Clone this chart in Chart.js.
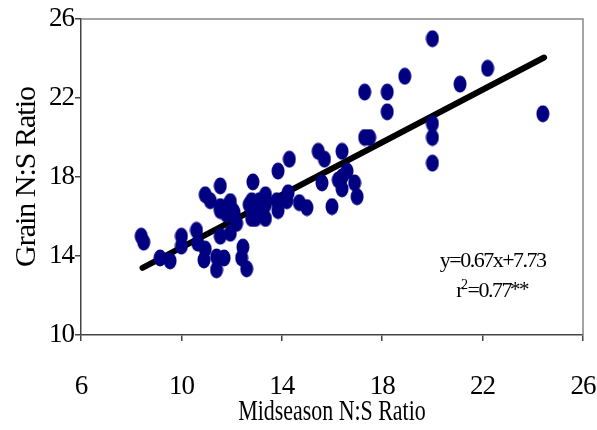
<!DOCTYPE html>
<html>
<head>
<meta charset="utf-8">
<script src="https://cdn.jsdelivr.net/npm/chart.js@4.4.0/dist/chart.umd.min.js"></script>
<style>
html, body { margin: 0; padding: 0; background: #fff; }
</style>
</head>
<body>
<canvas id="myChart" width="597" height="430"></canvas>
<script>
// values
var midX = [8.4, 8.5, 9.15, 9.55, 10.0, 10.0, 10.6, 10.65, 10.95, 10.9, 11.4, 11.4, 11.7,
  10.95, 11.15, 11.55, 11.55, 11.55, 11.9, 11.95, 11.8, 12.1, 11.55, 11.95, 12.2, 12.05,
  12.45, 12.4, 12.6, 12.8, 12.85, 12.85, 12.8, 12.7, 13.1, 13.25, 13.35, 13.35, 12.95,
  12.95, 13.35, 13.85, 13.8, 13.85, 14.2, 14.25, 14.3, 14.7, 15.0, 15.45, 15.7, 15.6,
  16.0, 16.4, 16.6, 16.4, 16.25, 16.9, 16.4, 17.0, 17.3, 17.5, 17.3, 18.2, 18.2, 18.9,
  20.0, 20.0, 20.0, 20.0, 21.1, 22.2, 24.4];
var grainY = [15.0, 14.7, 13.9, 13.75, 15.0, 14.5, 15.3, 14.65, 14.35, 13.8, 13.3, 13.95, 13.9,
  17.1, 16.8, 17.55, 16.5, 16.3, 16.6, 16.75, 16.1, 16.2, 15.0, 15.15, 15.65, 16.3,
  14.45, 13.9, 13.35, 16.8, 16.2, 17.75, 15.9, 16.6, 16.8, 16.1, 17.1, 16.6, 16.5,
  15.9, 15.9, 18.3, 16.8, 16.3, 16.8, 17.2, 18.9, 16.7, 16.45, 19.3, 18.9, 17.7,
  16.5, 19.3, 18.3, 18.0, 17.85, 17.7, 17.4, 17.0, 20.0, 20.0, 22.3, 22.3, 21.3, 23.1,
  25.0, 20.7, 20.0, 18.7, 22.7, 23.5, 21.2];

// regression line ends as drawn
var fitX = [8.45, 24.45];
var fitY = [13.4, 24.05];

var xTicks = [6, 10, 14, 18, 22, 26];
var yTicks = [10, 14, 18, 22, 26];

var eqText = "y=0.67x+7.73";
var rText = ["r", "2", "=0.77", "**"];
var eqPos = { x: 22.4, y1: 13.44, y2: 11.92 };

var serif = "'Liberation Serif', 'Times New Roman', serif";

var scatterPts = midX.map(function(x, i) { return { x: x, y: grainY[i] }; });
var fitPts = fitX.map(function(x, i) { return { x: x, y: fitY[i] }; });

// oval marker like the original
var dot = document.createElement("canvas");
dot.width = 14;
dot.height = 18;
var dctx = dot.getContext("2d");
dctx.fillStyle = "#000080";
dctx.beginPath();
dctx.ellipse(7, 9, 6.5, 8.5, 0, 0, Math.PI * 2);
dctx.fill();

var framePlugin = {
  id: "frame",
  beforeDraw: function(chart) {
    var ctx = chart.ctx;
    ctx.letterSpacing = "-1px";
    // x title in the original is squeezed sideways
    var xs = chart.scales.x;
    if (!xs._squeezed) {
      var orig = xs.drawTitle;
      xs.drawTitle = function() {
        var cx = (this.left + this.right) / 2;
        ctx.save();
        ctx.letterSpacing = "0px";
        ctx.translate(cx, 0);
        ctx.scale(0.73, 1);
        ctx.translate(-cx, 0);
        orig.apply(this, arguments);
        ctx.restore();
      };
      xs._squeezed = true;
    }
  },
  beforeDatasetsDraw: function(chart) {
    var a = chart.chartArea;
    var ctx = chart.ctx;
    ctx.save();
    ctx.strokeStyle = "#888888";
    ctx.lineWidth = 1.5;
    ctx.beginPath();
    ctx.moveTo(a.left, a.top);
    ctx.lineTo(a.right, a.top);
    ctx.lineTo(a.right, a.bottom);
    ctx.stroke();
    ctx.restore();
  },
  afterDraw: function(chart) {
    var ctx = chart.ctx;
    var xs = chart.scales.x, ys = chart.scales.y;
    var cx = xs.getPixelForValue(eqPos.x);
    var b1 = ys.getPixelForValue(eqPos.y1);
    var b2 = ys.getPixelForValue(eqPos.y2);
    ctx.save();
    ctx.letterSpacing = "-1.5px";
    ctx.fillStyle = "#000";
    ctx.textBaseline = "alphabetic";
    ctx.font = "22px " + serif;
    ctx.textAlign = "center";
    ctx.fillText(eqText, cx, b1);
    // r² = 0.77**
    ctx.textAlign = "left";
    var big = "22px " + serif, small = "14px " + serif, star = "21px " + serif;
    ctx.font = big; var w0 = ctx.measureText(rText[0]).width;
    ctx.font = small; var w1 = ctx.measureText(rText[1]).width;
    ctx.font = big; var w2 = ctx.measureText(rText[2]).width;
    ctx.font = star; var w3 = ctx.measureText(rText[3]).width;
    var x0 = cx - (w0 + w1 + w2 + w3) / 2;
    ctx.font = big; ctx.fillText(rText[0], x0, b2);
    ctx.font = small; ctx.fillText(rText[1], x0 + w0 - 1, b2 - 8);
    ctx.font = big; ctx.fillText(rText[2], x0 + w0 + w1, b2);
    ctx.font = star; ctx.fillText(rText[3], x0 + w0 + w1 + w2 - 1, b2 - 1);
    ctx.restore();
  }
};

new Chart(document.getElementById("myChart").getContext("2d"), {
  type: "scatter",
  data: {
    datasets: [
      {
        label: "Grain vs Midseason",
        data: scatterPts,
        pointStyle: dot,
        pointRadius: 7,
        pointHoverRadius: 7
      },
      {
        type: "line",
        label: "Fit",
        data: fitPts,
        borderColor: "#000",
        borderWidth: 6,
        borderCapStyle: "round",
        pointRadius: 0,
        fill: false
      }
    ]
  },
  options: {
    responsive: false,
    animation: false,
    layout: { padding: { left: 0, right: 14, top: 19, bottom: 0 } },
    plugins: { legend: { display: false }, tooltip: { enabled: false } },
    scales: {
      x: {
        type: "linear",
        min: 6,
        max: 26,
        afterBuildTicks: function(s) { s.ticks = xTicks.map(function(v) { return { value: v }; }); },
        afterFit: function(s) { s.height = 95; s.paddingLeft = 0; s.paddingRight = 0; },
        ticks: { color: "#000", font: { family: serif, size: 27 }, padding: 30, maxRotation: 0 },
        grid: { drawOnChartArea: false, drawTicks: true, tickLength: 6, color: "#444", lineWidth: 1.5 },
        border: { color: "#444", width: 1.5 },
        title: {
          display: true,
          text: "Midseason N:S Ratio",
          color: "#000",
          font: { family: serif, size: 30 },
          padding: { top: 0, bottom: 0 }
        }
      },
      y: {
        type: "linear",
        min: 10,
        max: 26,
        afterBuildTicks: function(s) { s.ticks = yTicks.map(function(v) { return { value: v }; }); },
        afterFit: function(s) { s.width = 81; s.paddingTop = 0; s.paddingBottom = 0; },
        ticks: { color: "#000", font: { family: serif, size: 27 }, padding: 1 },
        grid: { drawOnChartArea: false, drawTicks: true, tickLength: 6, color: "#444", lineWidth: 1.5 },
        border: { color: "#444", width: 1.5 },
        title: {
          display: true,
          text: "Grain N:S Ratio",
          color: "#000",
          font: { family: serif, size: 30 },
          padding: { top: 9, bottom: 0 }
        }
      }
    }
  },
  plugins: [framePlugin]
});
</script>
</body>
</html>
